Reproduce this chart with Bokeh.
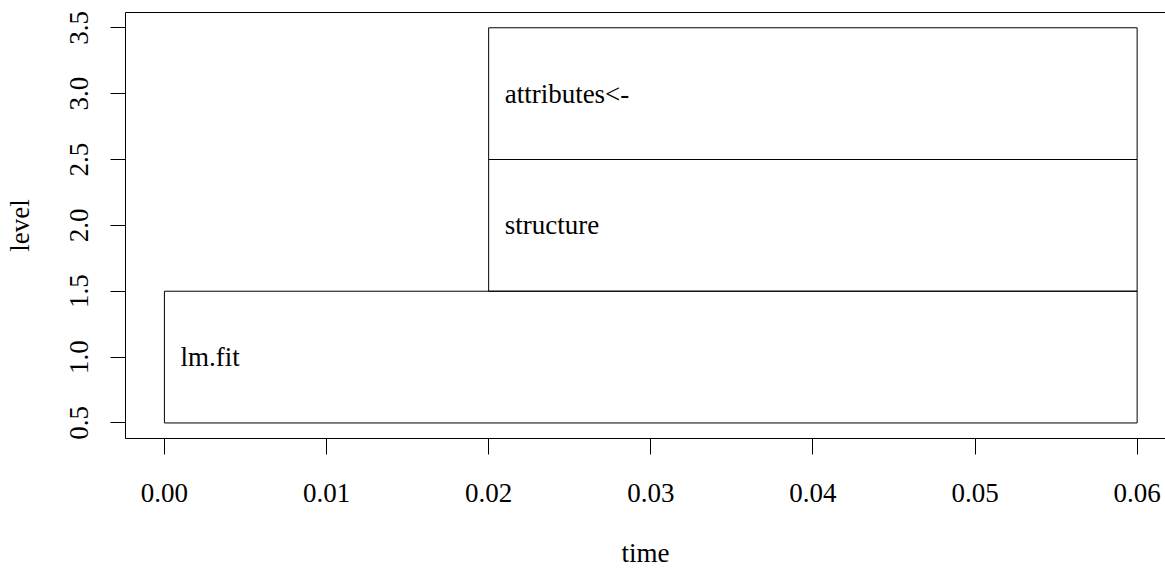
from bokeh.plotting import figure
from bokeh.models import FixedTicker, NumeralTickFormatter, LinearAxis, ColumnDataSource, Range1d
from bokeh.core.properties import value
from bokeh.embed import file_html
from bokeh.resources import INLINE

# Flame-graph data (R profiling output)
labels = ["lm.fit", "structure", "attributes<-"]
level = [1, 2, 3]
start = [0.00, 0.02, 0.02]
end = [0.06, 0.06, 0.06]

x_ticks = [0.00, 0.01, 0.02, 0.03, 0.04, 0.05, 0.06]
y_ticks = [0.5, 1.0, 1.5, 2.0, 2.5, 3.0, 3.5]

FONT = "Liberation Serif"
FS = "27px"

src = ColumnDataSource(dict(
    label=labels,
    level=level,
    start=start,
    end=end,
    bottom=[l - 0.5 for l in level],
    top=[l + 0.5 for l in level],
))

p = figure(width=1165, height=570, output_backend="svg", toolbar_location=None,
           x_range=Range1d(-0.0024, 0.06175), y_range=Range1d(0.382, 3.616),
           min_border_left=125, min_border_right=0, min_border_top=12, min_border_bottom=132,
           x_axis_label="time", y_axis_label="level")

p.outline_line_color = None
p.xgrid.visible = False
p.ygrid.visible = False
p.background_fill_color = "white"
p.border_fill_color = "white"

p.quad(left="start", right="end", bottom="bottom", top="top", source=src,
       fill_color=None, line_color="black", line_width=1)
p.text(x="start", y="level", text="label", source=src, x_offset=16,
       text_baseline="alphabetic", text_align="left",
       text_font=value(FONT), text_font_size=FS, text_color="black")

xa = p.xaxis[0]
xa.ticker = FixedTicker(ticks=x_ticks)
xa.formatter = NumeralTickFormatter(format="0.00")
xa.minor_tick_line_color = None
xa.major_tick_in = 0
xa.major_tick_out = 16
xa.major_label_standoff = 29
xa.axis_label_standoff = 33

ya = p.yaxis[0]
ya.ticker = FixedTicker(ticks=y_ticks)
ya.formatter = NumeralTickFormatter(format="0.0")
ya.minor_tick_line_color = None
ya.major_tick_in = 0
ya.major_tick_out = 15
ya.major_label_standoff = 22
ya.major_label_orientation = "vertical"
ya.axis_label_standoff = 33

for ax in (xa, ya):
    ax.axis_line_color = "black"
    ax.major_tick_line_color = "black"
    ax.major_label_text_font = FONT
    ax.major_label_text_font_size = FS
    ax.major_label_text_color = "black"
    ax.axis_label_text_font = FONT
    ax.axis_label_text_font_size = FS
    ax.axis_label_text_font_style = "normal"
    ax.axis_label_text_color = "black"

top_axis = LinearAxis(ticker=FixedTicker(ticks=[]), axis_line_color="black",
                      major_tick_out=0, major_tick_in=0, minor_tick_line_color=None,
                      major_label_standoff=0, major_label_text_font_size="0px")
p.add_layout(top_axis, "above")

open("out.html", "w").write(file_html(p, INLINE))
